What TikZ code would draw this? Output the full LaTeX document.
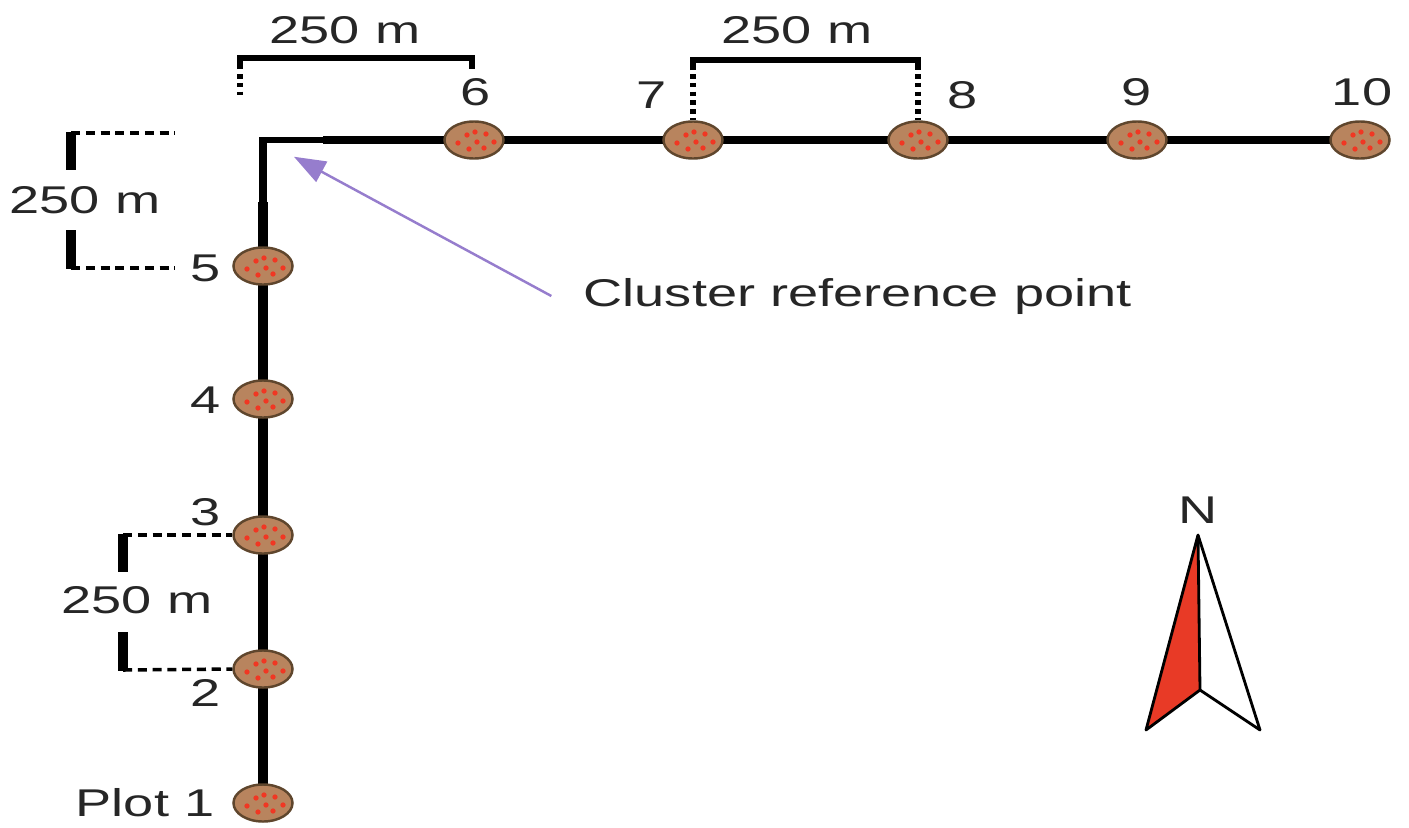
\documentclass[tikz,border=0pt]{standalone}
\usepackage{fontspec}
\setmainfont{Liberation Sans}
\usepackage{graphicx}
\usetikzlibrary{shapes.geometric,arrows.meta,backgrounds}
\definecolor{plotfill}{RGB}{184,132,94}
\definecolor{plotline}{RGB}{95,70,45}
\definecolor{dotred}{RGB}{240,55,35}
\definecolor{refpurple}{RGB}{150,125,205}
\definecolor{northred}{RGB}{232,58,38}
\newcommand{\wtxt}[1]{\scalebox{1.4}[1]{#1}}
\begin{document}
\begin{tikzpicture}[x=0.01cm,y=-0.01cm,
  font=\fontsize{11}{13}\selectfont,
  plotnode/.style={ellipse, draw=plotline, line width=0.7pt, fill=plotfill,
    minimum width=0.59cm, minimum height=0.37cm, inner sep=0pt,
    path picture={\foreach \a/\b in {-16/3,-7/-5,1/-8,12/-6,20/2,3/2,-5/9,10/8}
      {\fill[dotred] ([shift={(\a,\b)}]path picture bounding box.center) circle (0.75pt);}}},
  lbl/.style={inner sep=0pt, text=black!85},
  trunkv/.style={line width=3pt},
  trunkh/.style={line width=2.2pt},
  thinv/.style={line width=2.2pt},
  thinh/.style={line width=1.5pt},
  bracket/.style={line width=1.8pt},
  dimbar/.style={line width=3pt},
  dimdash/.style={line width=1pt, dash pattern=on 2.6pt off 1.6pt},
  dimdot/.style={line width=1.5pt, dash pattern=on 1.3pt off 1.2pt},
  refarrow/.style={draw=refpurple, line width=0.7pt, -{Triangle[length=9pt,width=6.5pt]}, shorten >=10pt},
  northshape/.style={line width=0.8pt, line join=round}
]
\useasboundingbox (0,0) rectangle (1409,827);

% plots
\node[plotnode] (p1) at (263,803) {};
\node[plotnode] (p2) at (263,669) {};
\node[plotnode] (p3) at (263,535) {};
\node[plotnode] (p4) at (263,399) {};
\node[plotnode] (p5) at (263,266) {};
\node[plotnode] (p6) at (474,140) {};
\node[plotnode] (p7) at (693,140) {};
\node[plotnode] (p8) at (918,140) {};
\node[plotnode] (p9) at (1137,140) {};
\node[plotnode] (p10) at (1360,140) {};

\coordinate (ref) at (263,140);
\coordinate (vthin) at (263,202);
\coordinate (hthin) at (323,140);

\begin{scope}[on background layer]
  \draw[trunkv] (p1.center) -- (vthin);
  \draw[thinv] (vthin) -- ([yshift=-0.6pt]ref);
  \draw[thinh] ([xshift=-1.1pt]ref) -- (hthin);
  \draw[trunkh] (hthin) -- (p10.center);
\end{scope}

% plot labels
\node[lbl] (l1) at (145,803) {\wtxt{Plot 1}};
\node[lbl] (l2) at (206,693) {\wtxt{2}};
\node[lbl] (l3) at (206,512) {\wtxt{3}};
\node[lbl] (l4) at (206,400) {\wtxt{4}};
\node[lbl] (l5) at (206,268) {\wtxt{5}};
\node[lbl] (l6) at (476,92) {\wtxt{6}};
\node[lbl] (l7) at (652,95) {\wtxt{7}};
\node[lbl] (l8) at (963,95) {\wtxt{8}};
\node[lbl] (l9) at (1137,92) {\wtxt{9}};
\node[lbl] (l10) at (1362,92) {\wtxt{10}};

% top-left dimension
\node[lbl] (d1) at (345,30) {\wtxt{250 m}};
\draw[bracket] (240,69) -- (240,58) -- (472,58) -- (472,69);
\draw[dimdot] (240,74) -- (240,95);

% top-middle dimension
\node[lbl] (d2) at (797,30) {\wtxt{250 m}};
\draw[bracket] (693,70) -- (693,60) -- (918,60) -- (918,70);
\draw[dimdot] (693,74) -- (p7.north);
\draw[dimdot] (918,74) -- (p8.north);

% left-top dimension
\node[lbl] (d3) at (85,200) {\wtxt{250 m}};
\draw[dimbar] (71,132) -- (71,170);
\draw[dimbar] (71,230) -- (71,269);
\draw[dimdash] (71,133) -- (175,133);
\draw[dimdash] (71,268) -- (175,268);

% left-bottom dimension
\node[lbl] (d4) at (137,600) {\wtxt{250 m}};
\draw[dimbar] (123,534) -- (123,572);
\draw[dimbar] (123,632) -- (123,671);
\draw[dimdash] (123,535) -- (p3.west);
\draw[dimdash] (123,670) -- (p2.west);

% cluster reference point
\node[lbl, anchor=west] (crp) at (583,296) {\wtxt{Cluster reference point}};
\draw[refarrow] ([xshift=-9pt]crp.west) -- (ref);

% north arrow
\node[lbl] (nlab) at (1198,510) {\wtxt{N}};
\draw[northshape, fill=northred] (1198,535) -- (1146,730) -- (1200,690) -- cycle;
\draw[northshape] (1198,535) -- (1260,730) -- (1200,690);
\end{tikzpicture}
\end{document}
